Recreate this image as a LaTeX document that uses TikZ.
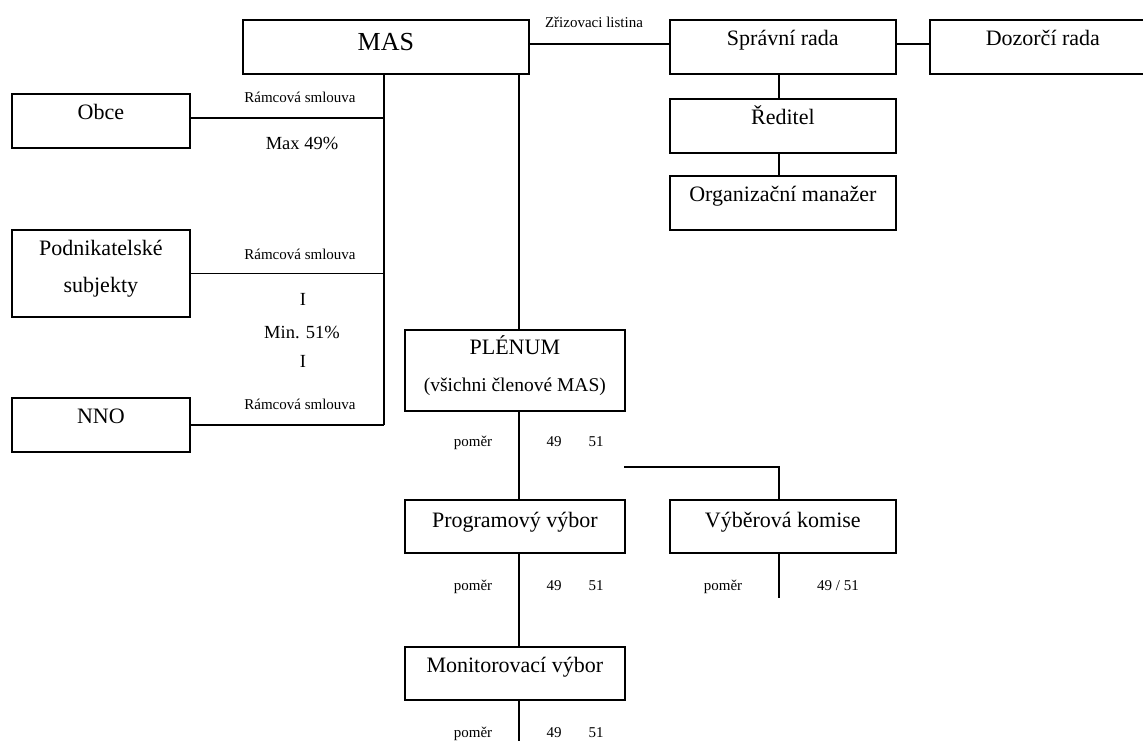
\documentclass[tikz,border=0pt]{standalone}
\usepackage{fontspec}
\setmainfont{Liberation Serif}
\tikzset{
  box/.style={draw, line width=1.7, anchor=north west, inner xsep=0pt, inner ysep=0pt,
    align=center, text height=26pt, text depth=28pt, font=\fontsize{22}{37}\selectfont},
  note/.style={anchor=base, inner sep=0pt, font=\fontsize{15}{18}\selectfont},
  share/.style={anchor=base, inner sep=0pt, font=\fontsize{18.5}{22}\selectfont},
}
\begin{document}
\begin{tikzpicture}[x=1pt, y=-1pt, line width=1.5]
    \useasboundingbox (0,0) rectangle (1143,740);

    \node[box, minimum width=286pt, text height=31pt, text depth=23pt, font=\fontsize{26}{30}\selectfont] (mas) at (242,19) {MAS};
    \node[box, minimum width=226pt] (sprava) at (669,19) {Správní rada};
    \node[box, minimum width=226pt] (dozor) at (929,19) {Dozorčí rada};
    \node[box, minimum width=226pt] (reditel) at (669,98) {Ředitel};
    \node[box, minimum width=226pt] (manazer) at (669,175) {Organizační manažer};

    \node[box, minimum width=178pt] (obce) at (11,93) {Obce};
    \node[box, minimum width=178pt, text height=63pt, text depth=24pt] (podnik) at (11,229) {Podnikatelské\\subjekty};
    \node[box, minimum width=178pt] (nno) at (11,397) {NNO};

    \node[box, minimum width=220pt, text height=62pt, text depth=19pt] (plenum) at (404,329)
        {PLÉNUM\\{\fontsize{19.5}{24}\selectfont(všichni členové MAS)}};
    \node[box, minimum width=220pt, text height=28pt, text depth=25pt] (program) at (404,499) {Programový výbor};
    \node[box, minimum width=226pt, text height=28pt, text depth=25pt] (vyber) at (669,499) {Výběrová komise};
    \node[box, minimum width=220pt, text depth=27pt] (monitor) at (404,646) {Monitorovací výbor};

    \coordinate (bus) at (384,0);
    \coordinate (spine) at (519,0);
    \coordinate (branch) at (779,0);
    \coordinate (fork) at (624,467);
    \coordinate (vyberend) at (779,598);
    \coordinate (bottom) at (519,745);

    \draw ([yshift=3pt]mas.east) -- ([yshift=3pt]sprava.west);
    \draw ([yshift=3pt]sprava.east) -- ([yshift=3pt]dozor.west);
    \draw (sprava.south -| branch) -- (reditel.north -| branch);
    \draw (reditel.south -| branch) -- (manazer.north -| branch);

    \draw (mas.south -| bus) -- (nno.east -| bus);
    \draw ([yshift=3pt]obce.east) -- ([yshift=3pt]obce.east -| bus);
    \draw (podnik.east) -- (podnik.east -| bus);
    \draw (nno.east) -- (nno.east -| bus);

    \draw (mas.south -| spine) -- (plenum.north -| spine);
    \draw (plenum.south -| spine) -- (program.north -| spine);
    \draw (program.south -| spine) -- (monitor.north -| spine);
    \draw (monitor.south -| spine) -- (bottom);
    \draw (fork) -| (vyber.north -| branch);
    \draw (vyber.south -| branch) -- (vyberend);

    \draw (594,27) node[note] {Zřizovaci listina};
    \draw (300,102) node[note] {Rámcová smlouva};
    \draw (302,149) node[share] {Max 49\%};
    \draw (300,259) node[note] {Rámcová smlouva};
    \draw (303,305) node[share] {I};
    \draw (302,338) node[share] {Min. 51\%};
    \draw (303,367) node[share] {I};
    \draw (300,409) node[note] {Rámcová smlouva};

    \draw (473,446) node[note] {poměr};
    \draw (554,446) node[note] {49};
    \draw (596,446) node[note] {51};
    \draw (473,590) node[note] {poměr};
    \draw (554,590) node[note] {49};
    \draw (596,590) node[note] {51};
    \draw (723,590) node[note] {poměr};
    \draw (838,590) node[note] {49 / 51};
    \draw (473,737) node[note] {poměr};
    \draw (554,737) node[note] {49};
    \draw (596,737) node[note] {51};
\end{tikzpicture}
\end{document}
